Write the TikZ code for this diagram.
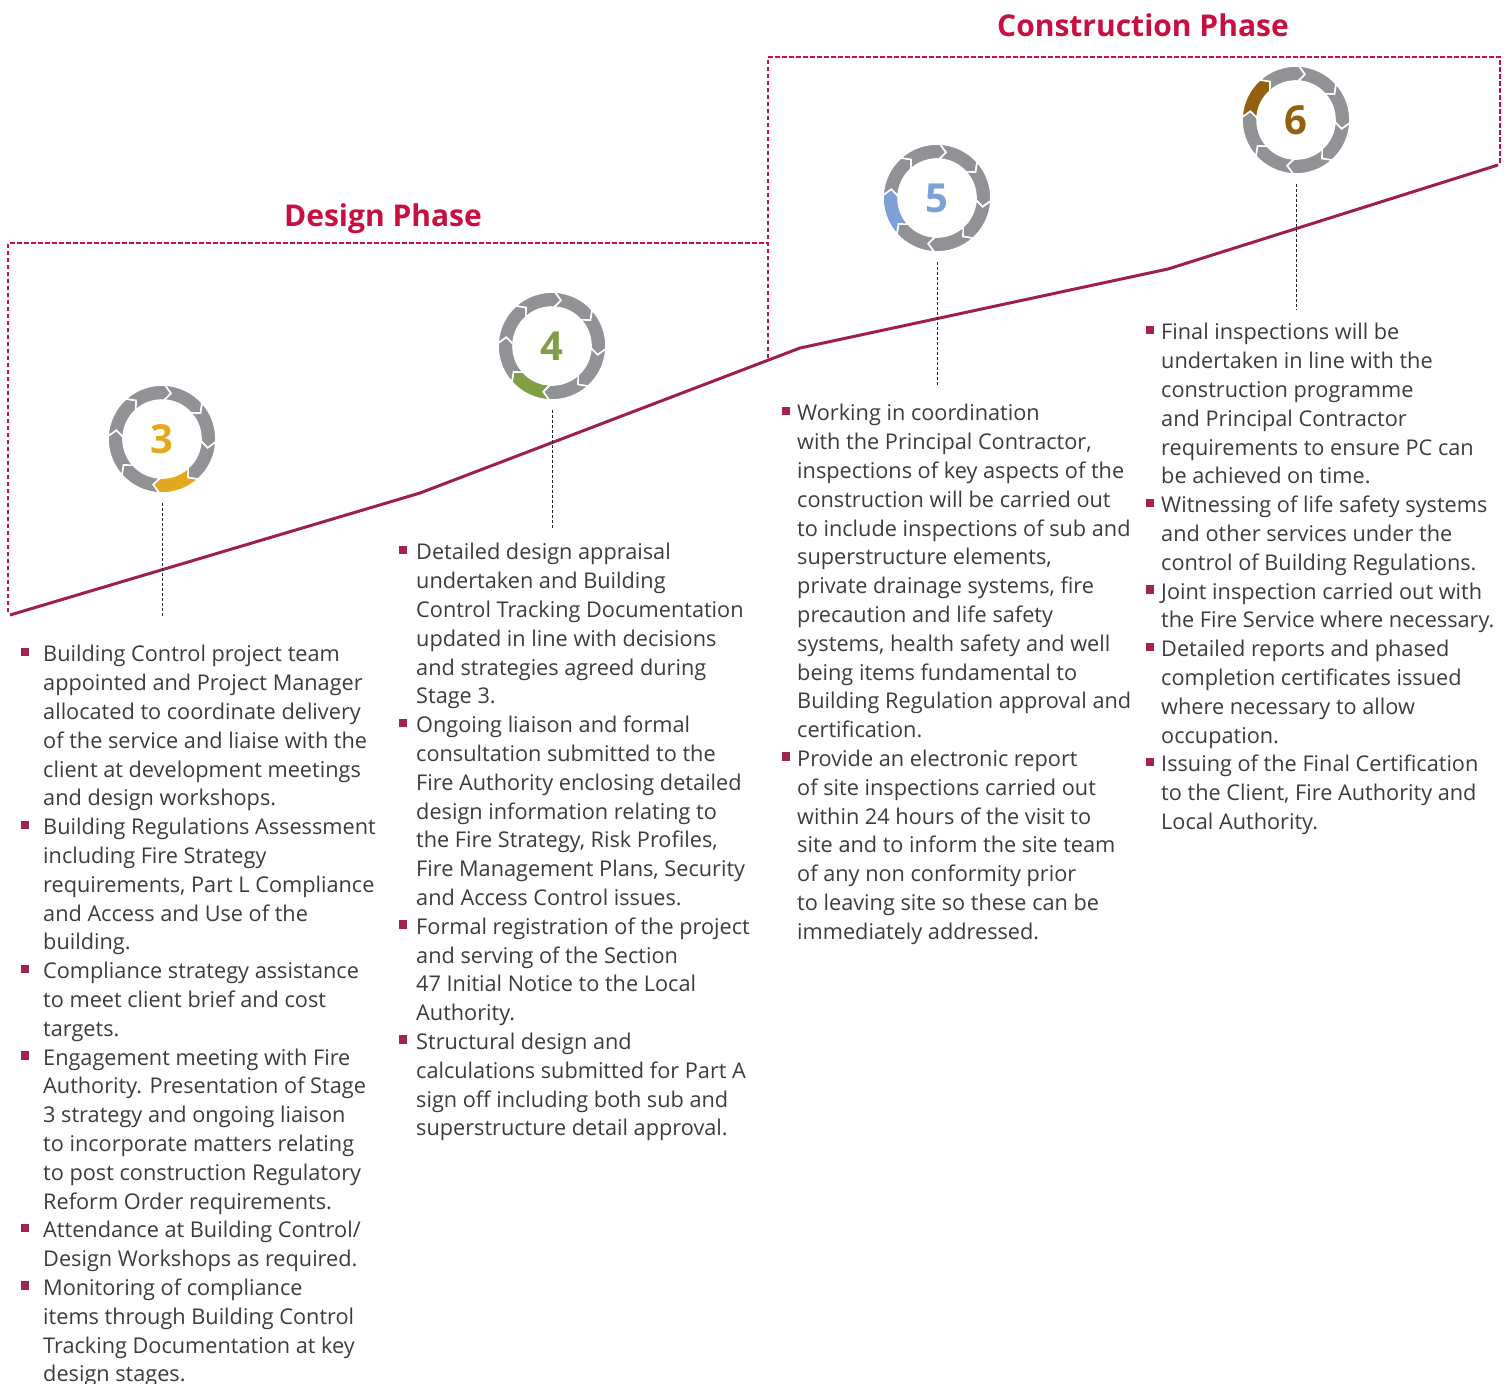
\documentclass[tikz,border=0pt]{standalone}
\usepackage{fontspec}
\setmainfont{Open Sans}
\usepackage{tikz}

\definecolor{phasered}{RGB}{200,16,64}
\definecolor{linered}{RGB}{160,30,78}
\definecolor{bulletred}{RGB}{163,35,79}
\definecolor{ringgray}{RGB}{145,146,150}
\definecolor{bodygray}{RGB}{60,60,60}
\definecolor{stagegold}{RGB}{226,169,31}
\definecolor{stagegreen}{RGB}{127,158,69}
\definecolor{stageblue}{RGB}{125,160,214}
\definecolor{stagebrown}{RGB}{147,96,15}

\newcommand{\bul}[1][8pt]{\llap{\textcolor{bulletred}{\rule[5.5pt]{8.5pt}{8.5pt}}\hspace{#1}}}

% ring of eight arrow segments, one of them coloured
\newcommand{\cyclering}[3]{%
  \foreach \k in {0,...,7}{%
    \pgfmathsetmacro{\sa}{87-45*\k}%
    \pgfmathsetmacro{\ea}{\sa-45}%
    \ifnum\k=#3\relax\def\segcol{#2}\else\def\segcol{ringgray}\fi
    \filldraw[fill=\segcol,draw=white,line width=1.6pt,shift={(#1.center)}]
      (\sa:54) arc[start angle=\sa,end angle=\ea,radius=54]
      -- (\ea-8:46.5) -- (\ea:39) arc[start angle=\ea,end angle=\sa,radius=39]
      -- (\sa-8:46.5) -- cycle;
  }}

\begin{document}
\begin{tikzpicture}[x=1pt,y=1pt,
  phaseline/.style={phasered,line width=1.5pt,dash pattern=on 4.5pt off 2.5pt},
  leader/.style={black!85,line width=1pt,dash pattern=on 3pt off 2pt},
  phase/.style={anchor=base,text=phasered,font=\fontsize{30}{30}\selectfont\bfseries},
  stage/.style={circle,minimum size=108pt,inner sep=0pt,outer sep=10pt,font=\fontsize{40}{40}\selectfont\bfseries},
  items/.style={anchor=north west,align=left,inner sep=0pt,text=bodygray,font=\fontsize{21.7}{28.8}\selectfont}]
	\useasboundingbox (0,0) rectangle (1505,-1384);

	\draw[phaseline] (8,-612) |- (768,-243);
	\draw[phaseline] (768,-358) -- (768,-57) -| (1500,-163);
	\node[phase] (design) at (383,-226) {Design Phase};
	\node[phase] (construction) at (1143,-36) {Construction Phase};

	\draw[linered,line width=3pt,line join=round] (10,-615) -- (420,-493) -- (800,-348) -- (1168,-269) -- (1498,-165);

	\node[stage,text=stagegold] (s3) at (162,-439) {3};
	\node[stage,text=stagegreen] (s4) at (552,-346) {4};
	\node[stage,text=stageblue] (s5) at (937,-198) {5};
	\node[stage,text=stagebrown] (s6) at (1296,-120) {6};
	\cyclering{s3}{stagegold}{3}
	\cyclering{s4}{stagegreen}{4}
	\cyclering{s5}{stageblue}{5}
	\cyclering{s6}{stagebrown}{6}

	\coordinate (e3) at (162,-618);
	\coordinate (e4) at (552,-528);
	\coordinate (e5) at (937,-385);
	\coordinate (e6) at (1296,-310);
	\draw[leader] (s3.south) -- (e3);
	\draw[leader] (s4.south) -- (e4);
	\draw[leader] (s5.south) -- (e5);
	\draw[leader] (s6.south) -- (e6);

	\node[items] (list3) at (43,-641.5) {\bul[14pt]\strut Building Control project team\\
		appointed and Project Manager\\
		allocated to coordinate delivery\\
		of the service and liaise with the\\
		client at development meetings\\
		and design workshops.\\
		\bul[14pt]Building Regulations Assessment\\
		including Fire Strategy\\
		requirements, Part L Compliance\\
		and Access and Use of the\\
		building.\\
		\bul[14pt]Compliance strategy assistance\\
		to meet client brief and cost\\
		targets.\\
		\bul[14pt]Engagement meeting with Fire\\
		Authority. Presentation of Stage\\
		3 strategy and ongoing liaison\\
		to incorporate matters relating\\
		to post construction Regulatory\\
		Reform Order requirements.\\
		\bul[14pt]Attendance at Building Control/\\
		Design Workshops as required.\\
		\bul[14pt]Monitoring of compliance\\
		items through Building Control\\
		Tracking Documentation at key\\
		design stages.};

	\node[items] (list4) at (416,-539.5) {\bul[9pt]\strut Detailed design appraisal\\
		undertaken and Building\\
		Control Tracking Documentation\\
		updated in line with decisions\\
		and strategies agreed during\\
		Stage 3.\\
		\bul[9pt]Ongoing liaison and formal\\
		consultation submitted to the\\
		Fire Authority enclosing detailed\\
		design information relating to\\
		the Fire Strategy, Risk Profiles,\\
		Fire Management Plans, Security\\
		and Access Control issues.\\
		\bul[9pt]Formal registration of the project\\
		and serving of the Section\\
		47 Initial Notice to the Local\\
		Authority.\\
		\bul[9pt]Structural design and\\
		calculations submitted for Part A\\
		sign off including both sub and\\
		superstructure detail approval.};

	\node[items] (list5) at (797,-400.5) {\bul[7pt]\strut Working in coordination\\
		with the Principal Contractor,\\
		inspections of key aspects of the\\
		construction will be carried out\\
		to include inspections of sub and\\
		superstructure elements,\\
		private drainage systems, fire\\
		precaution and life safety\\
		systems, health safety and well\\
		being items fundamental to\\
		Building Regulation approval and\\
		certification.\\
		\bul[7pt]Provide an electronic report\\
		of site inspections carried out\\
		within 24 hours of the visit to\\
		site and to inform the site team\\
		of any non conformity prior\\
		to leaving site so these can be\\
		immediately addressed.};

	\node[items] (list6) at (1161,-319.5) {\bul[7pt]\strut Final inspections will be\\
		undertaken in line with the\\
		construction programme\\
		and Principal Contractor\\
		requirements to ensure PC can\\
		be achieved on time.\\
		\bul[7pt]Witnessing of life safety systems\\
		and other services under the\\
		control of Building Regulations.\\
		\bul[7pt]Joint inspection carried out with\\
		the Fire Service where necessary.\\
		\bul[7pt]Detailed reports and phased\\
		completion certificates issued\\
		where necessary to allow\\
		occupation.\\
		\bul[7pt]Issuing of the Final Certification\\
		to the Client, Fire Authority and\\
		Local Authority.};
\end{tikzpicture}
\end{document}
